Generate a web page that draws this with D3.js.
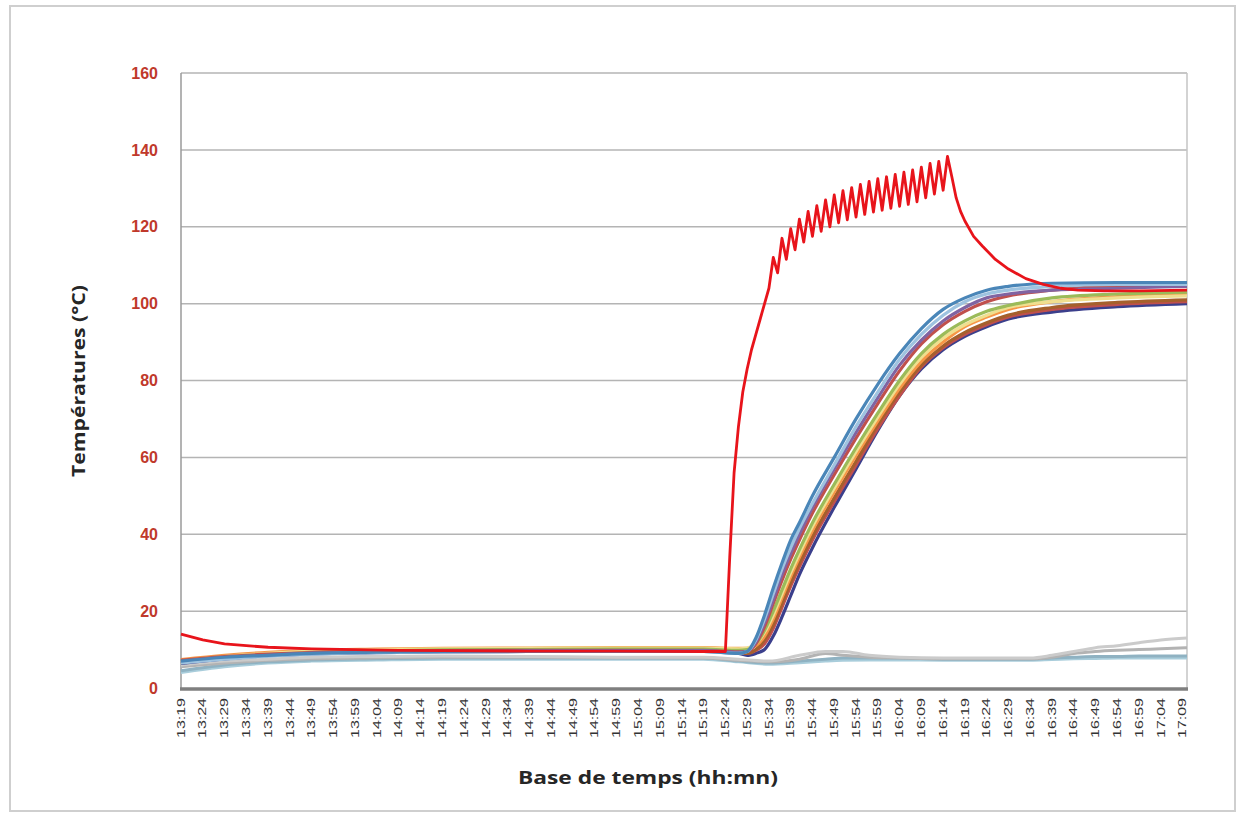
<!DOCTYPE html>
<html lang="fr">
<head>
  <meta charset="UTF-8">
  <title>Températures</title>
  <script src="https://d3js.org/d3.v7.min.js"></script>
  <style>
    body {
      margin: 0;
      background: #fff;
      font-family: 'Open Sans', 'Liberation Sans', sans-serif;
    }
    svg { display: block; }
    .y-axis text {
      font-size: 16px;
      font-weight: 700;
      fill: #c0392b;
    }
    .x-axis text {
      font-size: 10px;
      fill: #333;
    }
    .axis-title {
      font-size: 18px;
      font-weight: 700;
      fill: #262626;
    }
  </style>
</head>
<body>
  <svg width="1244" height="815"></svg>
  <script>
    // x tick labels (every 5 min)
    const tickLabels = [
      "13:19","13:24","13:29","13:34","13:39","13:44","13:49","13:54","13:59",
      "14:04","14:09","14:14","14:19","14:24","14:29","14:34","14:39","14:44","14:49","14:54","14:59",
      "15:04","15:09","15:14","15:19","15:24","15:29","15:34","15:39","15:44","15:49","15:54","15:59",
      "16:04","16:09","16:14","16:19","16:24","16:29","16:34","16:39","16:44","16:49","16:54","16:59",
      "17:04","17:09"
    ];
    const yTicks = [0, 20, 40, 60, 80, 100, 120, 140, 160];

    // heater probe (minutes after 13:19)
    const redTimes = [0, 5, 10, 15, 20, 30, 40, 50, 60, 80, 100, 120, 125, 126, 127, 128, 129, 130, 131, 132, 133, 134, 135, 136,
      137, 138, 139, 140, 141, 142, 143, 144, 145, 146, 147, 148, 149, 150, 151, 152, 153, 154, 155, 156,
      157, 158, 159, 160, 161, 162, 163, 164, 165, 166, 167, 168, 169, 170, 171, 172, 173, 174, 175, 176,
      177, 178, 179, 180, 182, 184, 187, 190, 194, 198, 202, 206, 212, 220, 231];
    const redValues = [14, 12.5, 11.5, 11, 10.6, 10.2, 10, 9.8, 9.7, 9.6, 9.6, 9.5, 9.5, 34, 56, 68, 77, 83, 88, 92, 96, 100, 104, 112,
      108, 117, 111.5, 119.5, 114, 122, 116, 124, 117.5, 125.5, 118.8, 127, 120, 128.3, 121, 129.4, 121.8, 130.2, 122.5, 131,
      123.2, 131.8, 123.8, 132.5, 124.3, 133, 124.8, 133.6, 125.3, 134.2, 125.8, 134.8, 126.5, 135.5, 127.5, 136.5, 128.5, 137, 129.5, 138.3,
      133, 127.5, 124, 121.5, 117.5, 115, 111.5, 109, 106.5, 105, 104, 103.5, 103.3, 103.3, 103.5];

    // product probes
    const riseTimes = [0, 10, 20, 30, 45, 60, 80, 100, 120, 128, 130, 132, 134, 136, 138, 140, 142, 145, 150, 155,
      160, 165, 170, 175, 180, 185, 190, 200, 215, 231];
    const probe1 = [7, 8, 8.5, 9, 9.3, 9.5, 9.5, 9.5, 9.5, 9, 9.5, 13, 19, 26, 32.5, 38.5, 43, 50, 60, 70,
      79, 87, 93.5, 98.5, 101.5, 103.5, 104.5, 105.3, 105.5, 105.5];
    const probe2 = [6.5, 7.5, 8.3, 8.8, 9.2, 9.4, 9.5, 9.5, 9.5, 9, 9.5, 12.5, 18, 24.5, 31, 36.5, 41.5, 48, 58, 68,
      77, 85.5, 92, 97, 100.5, 102.5, 103.5, 104.5, 105, 105];
    const probe3 = [6.8, 7.8, 8.5, 9, 9.3, 9.6, 9.7, 9.7, 9.7, 9.3, 9.5, 12, 17, 23, 29.5, 35, 40, 47, 57, 66.5,
      75.5, 84, 90.5, 95.5, 99, 101.5, 102.5, 103.5, 104, 104.5];
    const probe4 = [7.2, 8.2, 8.8, 9.2, 9.5, 9.7, 9.8, 9.8, 9.8, 9.4, 9.5, 11.5, 16, 22, 28, 33.5, 38.5, 45.5, 55.5, 65,
      74, 82.5, 89.5, 94.5, 98, 100.5, 102, 103.5, 104.5, 104.7];
    const probe5 = [6.6, 7.8, 8.6, 9.2, 9.6, 9.9, 10, 10.1, 10.1, 9.8, 10, 11.5, 15, 20, 25.5, 31, 36, 43, 53, 62.5,
      71.5, 80, 87, 92, 95.5, 98, 99.5, 101.5, 102.5, 103];
    const probe6 = [7, 8.2, 9, 9.6, 10, 10.2, 10.3, 10.4, 10.4, 10.2, 10.4, 11.5, 14.5, 19, 24.5, 30, 35, 42, 52, 61.5,
      70.5, 79, 86, 91, 94.5, 97, 99, 100.5, 101.5, 102];
    const probe7 = [7.4, 8.5, 9.3, 9.8, 10.1, 10.3, 10.4, 10.5, 10.5, 10.3, 10.3, 11, 13.5, 18, 23.5, 29, 34, 41, 51, 60.5,
      69.5, 78, 85, 90, 94, 96.5, 98.5, 100.5, 101.8, 102.5];
    const probe8 = [6.9, 7.9, 8.6, 9.1, 9.4, 9.6, 9.7, 9.7, 9.7, 9.3, 9, 10, 12.5, 16.5, 22, 27.5, 32.5, 39.5, 49.5, 59,
      68.5, 77, 84, 89, 92.5, 95, 97, 99, 100.3, 101];
    const probe9 = [7.1, 8.1, 8.7, 9.2, 9.5, 9.7, 9.8, 9.8, 9.8, 9.4, 9, 9.8, 11.5, 15.5, 21, 26.5, 31.5, 38.5, 48.5, 58,
      67.5, 76, 83.5, 88.5, 92, 94.5, 96.5, 98.5, 99.8, 100.5];
    const probe10 = [6.4, 7.6, 8.4, 8.9, 9.2, 9.4, 9.5, 9.5, 9.5, 9, 8.5, 9, 10, 13.5, 18.5, 24, 29.5, 36.5, 47, 57,
      67, 76, 83, 88, 91.5, 94, 96, 97.8, 99.2, 100];

    // ambient probes
    const ambTimes = [0, 10, 20, 30, 45, 60, 80, 100, 120, 128, 135, 142, 148, 152, 158, 165, 175, 185, 195, 200,
      205, 210, 215, 220, 225, 231];
    const amb1 = [6, 7, 7.5, 8, 8.2, 8.3, 8.2, 8, 8, 7.5, 7, 8.5, 9.5, 9.5, 8.5, 8, 7.8, 7.8, 7.8, 8.5,
      9.5, 10.5, 11, 11.8, 12.5, 13];
    const amb2 = [5.5, 6.5, 7.2, 7.6, 7.9, 8, 8, 7.9, 7.8, 7.2, 6.8, 7.5, 9, 8.5, 8, 7.8, 7.6, 7.6, 7.6, 8,
      9, 9.5, 9.8, 10, 10.2, 10.5];
    const amb3 = [4.5, 6, 6.8, 7.3, 7.6, 7.8, 7.8, 7.8, 7.8, 7, 6.5, 7, 7.5, 7.8, 7.8, 7.8, 7.5, 7.5, 7.5, 7.8,
      8, 8.2, 8.2, 8.3, 8.3, 8.3];
    const amb4 = [4, 5.5, 6.5, 7, 7.3, 7.5, 7.5, 7.5, 7.5, 6.8, 6.2, 6.6, 7, 7.2, 7.3, 7.3, 7.2, 7.2, 7.2, 7.4,
      7.6, 7.7, 7.8, 7.8, 7.8, 7.8];

    const ambient = [
      {values: amb4, color: "#a9cddb"},
      {values: amb3, color: "#8fb2c2"},
      {values: amb2, color: "#b3b3b3"},
      {values: amb1, color: "#cbcbcb"}
    ];
    const probes = [
      {values: probe10, color: "#3b3f8c"},
      {values: probe9, color: "#c0504d"},
      {values: probe8, color: "#a5602c"},
      {values: probe7, color: "#f79646"},
      {values: probe6, color: "#efdf8f"},
      {values: probe5, color: "#9bbb59"},
      {values: probe4, color: "#c0504d"},
      {values: probe3, color: "#8064a2"},
      {values: probe2, color: "#9ec3e0"},
      {values: probe1, color: "#4a86b8"}
    ];

    const svg = d3.select("svg");
    const plotLeft = 181, plotRight = 1187, plotTop = 73, plotBottom = 688;

    // outer frame
    svg.append("rect")
      .attr("x", 10).attr("y", 6)
      .attr("width", 1225).attr("height", 805)
      .attr("fill", "none")
      .attr("stroke", "#cfcfcf")
      .attr("stroke-width", 2);

    const toMin = s => {
      const [h, m] = s.split(":").map(Number);
      return (h * 60 + m) - (13 * 60 + 19);
    };

    const x = d3.scaleLinear().domain([0, 231]).range([plotLeft, plotRight]);
    const y = d3.scaleLinear().domain([0, 160]).range([plotBottom, plotTop]);

    // gridlines
    svg.append("g")
      .selectAll("line")
      .data(yTicks.filter(d => d > 0))
      .enter().append("line")
        .attr("x1", plotLeft).attr("x2", plotRight)
        .attr("y1", d => y(d)).attr("y2", d => y(d))
        .attr("stroke", "#b4b4b4")
        .attr("stroke-width", 1.5);

    // plot border left / right
    svg.append("line")
      .attr("x1", plotLeft).attr("x2", plotLeft).attr("y1", plotTop).attr("y2", plotBottom)
      .attr("stroke", "#9a9a9a").attr("stroke-width", 1.5);
    svg.append("line")
      .attr("x1", plotRight).attr("x2", plotRight).attr("y1", plotTop).attr("y2", plotBottom)
      .attr("stroke", "#c4c4c4").attr("stroke-width", 1.5);

    // y axis labels
    const yAxis = svg.append("g")
      .attr("class", "y-axis")
      .attr("transform", `translate(${plotLeft},0)`)
      .call(d3.axisLeft(y).tickValues(yTicks).tickSize(0).tickPadding(23));
    yAxis.select(".domain").remove();

    const lineMono = d3.line().curve(d3.curveMonotoneX);

    function draw(times, list, width) {
      list.forEach(s => {
        svg.append("path")
          .datum(times.map((t, i) => [x(t), y(s.values[i])]))
          .attr("fill", "none")
          .attr("stroke", s.color)
          .attr("stroke-width", width)
          .attr("stroke-linejoin", "round")
          .attr("d", lineMono);
      });
    }

    draw(ambTimes, ambient, 3);
    draw(riseTimes, probes, 3.2);

    svg.append("path")
      .datum(redTimes.map((t, i) => [x(t), y(redValues[i])]))
      .attr("fill", "none")
      .attr("stroke", "#e8141b")
      .attr("stroke-width", 2.8)
      .attr("stroke-linejoin", "round")
      .attr("d", d3.line());

    // x axis
    const xAxis = svg.append("g")
      .attr("class", "x-axis")
      .attr("transform", `translate(0,${plotBottom})`)
      .call(d3.axisBottom(x)
        .tickValues(tickLabels.map(toMin))
        .tickFormat((d, i) => tickLabels[i])
        .tickSize(0)
        .tickPadding(0));
    xAxis.select(".domain").remove();
    xAxis.selectAll("text")
      .attr("transform", "rotate(-90)")
      .attr("x", -10)
      .attr("y", 0)
      .attr("dy", "0.32em")
      .attr("textLength", 40)
      .attr("lengthAdjust", "spacingAndGlyphs")
      .style("text-anchor", "end");

    svg.append("line")
      .attr("x1", plotLeft - 1).attr("x2", plotRight + 1)
      .attr("y1", plotBottom + 1).attr("y2", plotBottom + 1)
      .attr("stroke", "#7f7f7f")
      .attr("stroke-width", 3.5);

    // axis titles
    svg.append("text")
      .attr("class", "axis-title")
      .attr("x", 648).attr("y", 784)
      .attr("text-anchor", "middle")
      .attr("textLength", 260)
      .attr("lengthAdjust", "spacingAndGlyphs")
      .text("Base de temps (hh:mn)");

    svg.append("text")
      .attr("class", "axis-title")
      .attr("transform", "translate(85,381) rotate(-90)")
      .attr("text-anchor", "middle")
      .attr("textLength", 192)
      .attr("lengthAdjust", "spacingAndGlyphs")
      .text("Températures (°C)");
  </script>
</body>
</html>
